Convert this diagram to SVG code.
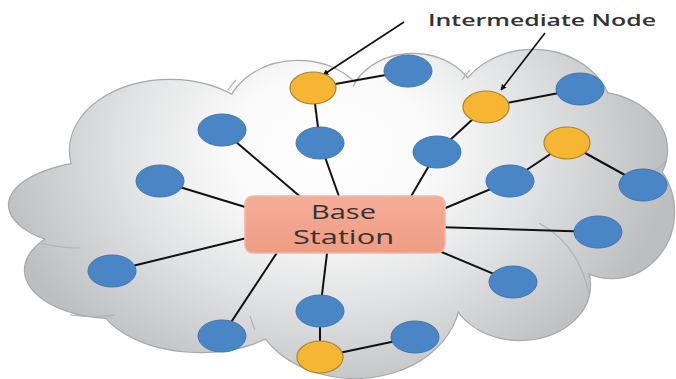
<svg xmlns="http://www.w3.org/2000/svg" width="676" height="379" viewBox="0 0 676 379">
<defs>
<radialGradient id="cg" gradientUnits="userSpaceOnUse" cx="330" cy="150" r="340" gradientTransform="translate(330 150) scale(1 0.75) translate(-330 -150)">
<stop offset="0" stop-color="#ffffff"/>
<stop offset="0.3" stop-color="#fafafa"/>
<stop offset="0.6" stop-color="#e2e3e4"/>
<stop offset="0.85" stop-color="#cbcccd"/>
<stop offset="1" stop-color="#bdbebf"/>
</radialGradient>
<linearGradient id="bs" x1="0" y1="0" x2="0" y2="1">
<stop offset="0" stop-color="#f5ad98"/>
<stop offset="1" stop-color="#ef9c84"/>
</linearGradient>
<marker id="ah" viewBox="0 0 10 10" refX="9" refY="5" markerWidth="6" markerHeight="6" orient="auto" markerUnits="userSpaceOnUse">
<path d="M0,0 L10,5 L0,10 z" fill="#111"/>
</marker>
<g id="lobes">
<ellipse cx="170" cy="150" rx="100" ry="70"/>
<ellipse cx="298" cy="118" rx="72" ry="57"/>
<ellipse cx="413" cy="110" rx="66" ry="56"/>
<ellipse cx="533" cy="118" rx="80" ry="68"/>
<ellipse cx="590" cy="150" rx="77" ry="58"/>
<ellipse cx="612" cy="212" rx="62" ry="66"/>
<ellipse cx="520" cy="285" rx="70" ry="55"/>
<ellipse cx="355" cy="295" rx="105" ry="83"/>
<ellipse cx="200" cy="290" rx="105" ry="62"/>
<ellipse cx="115" cy="270" rx="90" ry="48"/>
<ellipse cx="110" cy="205" rx="101" ry="44"/>
</g>
</defs>
<style>
.cl-stroke{fill:none;stroke:#a8a9aa;stroke-width:2.4}
.cl-fill{fill:url(#cg);stroke:none}
.inner{fill:none;stroke:#b0b1b2;stroke-width:1.2}
.edge{stroke:#111;stroke-width:2;fill:none}
.arrow{stroke:#111;stroke-width:1.6;fill:none}
.blue{fill:#4a86c6;stroke:#3f74b0;stroke-width:1}
.orange{fill:#f6b634;stroke:#a8842a;stroke-width:1.2}
.lbl{font-family:"Open Sans","Liberation Sans",sans-serif;fill:#333}
</style>
<g id="cloud">
<use href="#lobes" class="cl-stroke"/>
<use href="#lobes" class="cl-fill"/>
<ellipse cx="345" cy="205" rx="250" ry="110" class="cl-fill"/>
<path class="inner" d="M228,90 Q232,84 236,80"/>
<path class="inner" d="M353,87 Q356,80 360,76"/>
<path class="inner" d="M462,80 Q466,74 470,70"/>
<path class="inner" d="M539,223 Q578,244 589,293"/>
<path class="inner" d="M255,330 Q252,322 250,316"/>
<path class="inner" d="M40,243 Q60,248 80,248"/>
<path class="inner" d="M70,315 Q95,318 115,315"/>
<path class="inner" d="M655,170 Q662,168 666,160"/>
</g>
<g id="connectors">
<line class="edge" x1="313" y1="88" x2="408" y2="71"/>
<line class="edge" x1="313" y1="88" x2="320" y2="143"/>
<line class="edge" x1="320" y1="143" x2="342" y2="205"/>
<line class="edge" x1="222" y1="130" x2="310" y2="205"/>
<line class="edge" x1="437" y1="152" x2="406" y2="205"/>
<line class="edge" x1="437" y1="152" x2="486" y2="107"/>
<line class="edge" x1="486" y1="107" x2="580" y2="89"/>
<line class="edge" x1="510" y1="181" x2="436" y2="212"/>
<line class="edge" x1="510" y1="181" x2="567" y2="143"/>
<line class="edge" x1="567" y1="143" x2="643" y2="185"/>
<line class="edge" x1="160" y1="181" x2="255" y2="210"/>
<line class="edge" x1="598" y1="232" x2="436" y2="227"/>
<line class="edge" x1="112" y1="271" x2="255" y2="236"/>
<line class="edge" x1="513" y1="282" x2="432" y2="248"/>
<line class="edge" x1="222" y1="336" x2="282" y2="245"/>
<line class="edge" x1="320" y1="311" x2="328" y2="245"/>
<line class="edge" x1="320" y1="311" x2="320" y2="357"/>
<line class="edge" x1="320" y1="357" x2="415" y2="337"/>
<line class="arrow" x1="404" y1="22" x2="323" y2="75" marker-end="url(#ah)"/>
<line class="arrow" x1="545" y1="33" x2="501" y2="90" marker-end="url(#ah)"/>
</g>
<g id="base-station">
<rect x="245" y="196" width="200" height="57" rx="8" fill="url(#bs)" stroke="#f2b6a4" stroke-width="1.5"/>
<text class="lbl" font-size="20"><tspan x="311" y="219" textLength="65" lengthAdjust="spacingAndGlyphs">Base</tspan><tspan x="293" y="244" textLength="101" lengthAdjust="spacingAndGlyphs">Station</tspan></text>
</g>
<g id="label">
<text class="lbl" x="428" y="26" font-size="17" font-weight="600" fill="#222" textLength="228" lengthAdjust="spacingAndGlyphs">Intermediate Node</text>
</g>
<g id="nodes">
<ellipse id="n-a" class="orange" cx="313" cy="88" rx="23" ry="16"/>
<ellipse id="n-b" class="blue" cx="408" cy="71" rx="24" ry="16"/>
<ellipse id="n-c" class="blue" cx="320" cy="143" rx="24" ry="16"/>
<ellipse id="n-d" class="blue" cx="222" cy="130" rx="24" ry="16"/>
<ellipse id="n-e" class="orange" cx="486" cy="107" rx="23" ry="16"/>
<ellipse id="n-f" class="blue" cx="580" cy="89" rx="24" ry="16"/>
<ellipse id="n-g" class="blue" cx="437" cy="152" rx="24" ry="16"/>
<ellipse id="n-h" class="orange" cx="567" cy="143" rx="23" ry="16"/>
<ellipse id="n-i" class="blue" cx="510" cy="181" rx="24" ry="16"/>
<ellipse id="n-j" class="blue" cx="643" cy="185" rx="24" ry="16"/>
<ellipse id="n-k" class="blue" cx="160" cy="181" rx="24" ry="16"/>
<ellipse id="n-l" class="blue" cx="598" cy="232" rx="24" ry="16"/>
<ellipse id="n-m" class="blue" cx="112" cy="271" rx="24" ry="16"/>
<ellipse id="n-n" class="blue" cx="513" cy="282" rx="24" ry="16"/>
<ellipse id="n-o" class="blue" cx="222" cy="336" rx="24" ry="16"/>
<ellipse id="n-p" class="blue" cx="320" cy="311" rx="24" ry="16"/>
<ellipse id="n-q" class="orange" cx="320" cy="357" rx="23" ry="16"/>
<ellipse id="n-r" class="blue" cx="415" cy="337" rx="24" ry="16"/>
</g>
</svg>
